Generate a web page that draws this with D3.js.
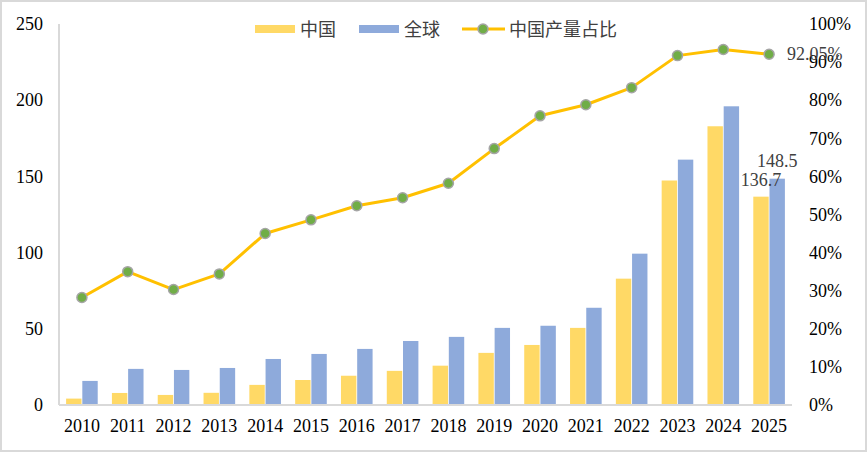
<!DOCTYPE html>
<html>
<head>
<meta charset="utf-8">
<script src="https://cdn.jsdelivr.net/npm/d3@7"></script>
<style>
  html, body { margin: 0; padding: 0; background: #fff; }
  svg { display: block; }
</style>
</head>
<body>
<svg id="chart" width="867" height="452"></svg>
<script>
// data
const years = ["2010","2011","2012","2013","2014","2015","2016","2017","2018","2019","2020","2021","2022","2023","2024","2025"];
const china = [4.2, 7.9, 6.6, 8.0, 13.2, 16.4, 19.2, 22.4, 25.8, 34.2, 39.4, 50.6, 82.9, 147.3, 182.9, 136.7];
const world = [15.8, 23.7, 23.0, 24.3, 30.2, 33.5, 36.8, 42.0, 44.7, 50.6, 52.0, 63.8, 99.3, 161.0, 196.0, 148.5];
const share = [0.282, 0.350, 0.303, 0.344, 0.450, 0.486, 0.523, 0.544, 0.582, 0.673, 0.759, 0.788, 0.833, 0.917, 0.933, 0.9205];
const leftTicks = [0, 50, 100, 150, 200, 250];
const rightTicks = [0, 0.1, 0.2, 0.3, 0.4, 0.5, 0.6, 0.7, 0.8, 0.9, 1.0];

const svg = d3.select("#chart");
const W = 867, H = 452;
const m = { left: 59, right: 75, top: 24, bottom: 47 };
const serif = "'Liberation Serif', 'Times New Roman', serif";
const cjk = "'Noto Sans CJK SC', sans-serif";

// outer border
svg.append("rect").attr("x", 1).attr("y", 1).attr("width", W - 2).attr("height", H - 2)
  .attr("fill", "#fff").attr("stroke", "#d9d9d9").attr("stroke-width", 2);

let x = d3.scaleBand().domain(years).range([m.left, W - m.right]).paddingInner(0.31).paddingOuter(0.155);
let xSub = d3.scaleBand().domain(["china", "world"]).range([0, x.bandwidth()]).paddingInner(0.05);
let y = d3.scaleLinear().domain([0, 250]).range([H - m.bottom, m.top]);
let y2 = d3.scaleLinear().domain([0, 1]).range([H - m.bottom, m.top]);

// bars
let groups = svg.append("g").selectAll("g").data(years).join("g")
  .attr("transform", d => `translate(${x(d)},0)`);
groups.append("rect")
  .attr("x", xSub("china")).attr("width", xSub.bandwidth())
  .attr("y", (d, i) => y(china[i])).attr("height", (d, i) => y(0) - y(china[i]))
  .attr("fill", "#FFD966");
groups.append("rect")
  .attr("x", xSub("world")).attr("width", xSub.bandwidth())
  .attr("y", (d, i) => y(world[i])).attr("height", (d, i) => y(0) - y(world[i]))
  .attr("fill", "#8EAADB");

// axes lines
svg.append("line").attr("x1", m.left).attr("x2", m.left).attr("y1", m.top).attr("y2", y(0))
  .attr("stroke", "#d9d9d9").attr("stroke-width", 2);
svg.append("line").attr("x1", m.left).attr("x2", W - m.right).attr("y1", y(0)).attr("y2", y(0))
  .attr("stroke", "#d9d9d9").attr("stroke-width", 2);

// left axis labels
let leftAxis = d3.axisLeft(y).tickValues(leftTicks).tickSize(0).tickPadding(16);
svg.append("g").attr("transform", `translate(${m.left},0)`).call(leftAxis)
  .call(g => g.select(".domain").remove())
  .selectAll("text").attr("font-family", serif).attr("font-size", 18).attr("fill", "#000");

// right axis labels
let rightAxis = d3.axisRight(y2).tickValues(rightTicks).tickFormat(d3.format(".0%")).tickSize(0).tickPadding(17);
svg.append("g").attr("transform", `translate(${W - m.right},0)`).call(rightAxis)
  .call(g => g.select(".domain").remove())
  .selectAll("text").attr("font-family", serif).attr("font-size", 18).attr("fill", "#000");

// bottom axis labels
let bottomAxis = d3.axisBottom(x).tickSize(0).tickPadding(14);
svg.append("g").attr("transform", `translate(0,${y(0)})`).call(bottomAxis)
  .call(g => g.select(".domain").remove())
  .selectAll("text").attr("font-family", serif).attr("font-size", 18).attr("fill", "#000");

// share line
let cx = d => x(d) + x.bandwidth() / 2;
let line = d3.line().x((d, i) => cx(years[i])).y(d => y2(d));
svg.append("path").datum(share).attr("d", line)
  .attr("fill", "none").attr("stroke", "#FFC000").attr("stroke-width", 3).attr("stroke-linejoin", "round");
svg.append("g").selectAll("circle").data(share).join("circle")
  .attr("cx", (d, i) => cx(years[i])).attr("cy", d => y2(d)).attr("r", 5)
  .attr("fill", "#70AD47").attr("stroke", "#A5A5A5").attr("stroke-width", 1.5);

// data labels for last year
let last = years.length - 1;
let lastYear = years[last];
svg.append("text").attr("x", x(lastYear) + xSub("china") + xSub.bandwidth() / 2).attr("y", y(china[last]) - 11)
  .attr("text-anchor", "middle").attr("font-family", serif).attr("font-size", 18).attr("fill", "#404040")
  .text(china[last].toFixed(1));
svg.append("text").attr("x", x(lastYear) + xSub("world") + xSub.bandwidth() / 2).attr("y", y(world[last]) - 12)
  .attr("text-anchor", "middle").attr("font-family", serif).attr("font-size", 18).attr("fill", "#404040")
  .text(world[last].toFixed(1));
svg.append("text").attr("x", cx(lastYear) + 18).attr("y", y2(share[last]) + 6)
  .attr("font-family", serif).attr("font-size", 18).attr("fill", "#404040")
  .text(d3.format(".2%")(share[last]));

// legend
let legend = svg.append("g").attr("font-family", cjk).attr("font-size", 18).attr("fill", "#404040");
legend.append("rect").attr("x", 255).attr("y", 25).attr("width", 40).attr("height", 8).attr("fill", "#FFD966");
legend.append("text").attr("x", 300).attr("y", 36).text("中国");
legend.append("rect").attr("x", 359).attr("y", 25).attr("width", 40).attr("height", 8).attr("fill", "#8EAADB");
legend.append("text").attr("x", 404).attr("y", 36).text("全球");
legend.append("line").attr("x1", 462).attr("x2", 505).attr("y1", 29).attr("y2", 29)
  .attr("stroke", "#FFC000").attr("stroke-width", 3);
legend.append("circle").attr("cx", 483).attr("cy", 29).attr("r", 5)
  .attr("fill", "#70AD47").attr("stroke", "#A5A5A5").attr("stroke-width", 1.5);
legend.append("text").attr("x", 509).attr("y", 36).text("中国产量占比");
</script>
</body>
</html>
